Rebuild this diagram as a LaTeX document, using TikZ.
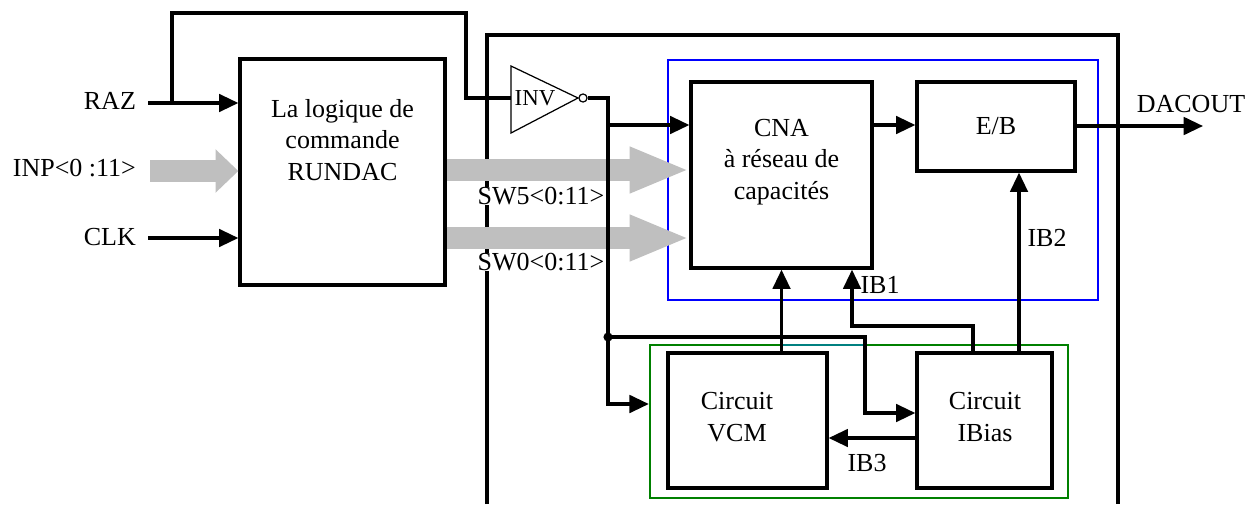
\documentclass[tikz,border=0pt]{standalone}
\usepackage{fontspec}
\setmainfont{Liberation Serif}
\usetikzlibrary{arrows.meta}

\begin{document}
\begin{tikzpicture}[x=0.02cm, y=-0.02cm,
    wire/.style={line width=1.8pt},
    sig/.style={wire, -{Triangle[length=11pt, width=10pt]}},
    box/.style={draw, line width=1.9pt, inner sep=0pt},
    bus/.style={draw=black!25, line width=12pt},
    lbl/.style={font=\fontsize{14.8}{17.8}\selectfont, align=center, inner sep=1pt}]
  \useasboundingbox (0,0) rectangle (1253,504);

  % Outer frame (open at the bottom)
  \draw[line width=1.9pt] (487,504) |- (1118,35) -- (1118,504);

  % Groups
  \node[draw=blue, line width=1.4pt, inner sep=0pt, minimum width=8.6cm, minimum height=4.8cm] (dacgrp) at (883,180) {};
  \node[draw=green!50!black, line width=1.4pt, inner sep=0pt, minimum width=8.36cm, minimum height=3.06cm] (biasgrp) at (859,421.5) {};

  % Blocks
  \node[box, minimum width=4.1cm, minimum height=4.52cm] (logic) at (342.5,172) {};
  \node[box, minimum width=3.62cm, minimum height=3.72cm] (cna) at (781.5,175) {};
  \node[box, minimum width=3.16cm, minimum height=1.78cm] (eb) at (996,126.5) {};
  \node[box, minimum width=3.18cm, minimum height=2.7cm] (vcm) at (747.5,420.5) {};
  \node[box, minimum width=2.7cm, minimum height=2.7cm] (ibias) at (984.5,420.5) {};

  \node[lbl] (logictxt) at (342.5,140) {La logique de\\commande\\RUNDAC};
  \node[lbl] (cnatxt) at (781.5,162) {CNA\\à réseau de\\capacités};
  \node[lbl] (ebtxt) at (eb) {E/B};
  \node[lbl] (vcmtxt) at (737,417) {Circuit\\VCM};
  \node[lbl] (ibiastxt) at (985,417) {Circuit\\IBias};

  % Inputs
  \node[lbl, anchor=east] (raz) at (138,101) {RAZ};
  \node[lbl, anchor=east] (inp) at (138,168) {INP<0 :11>};
  \node[lbl, anchor=east] (clk) at (138,237) {CLK};
  \coordinate (razin) at (148,103);
  \coordinate (inpin) at (150,171);
  \coordinate (clkin) at (148,238);
  \coordinate (fb) at (172,103);

  % Buses
  \draw[bus, -{Triangle[length=13pt, width=24pt]}] (inpin) -- (inpin -| logic.west);
  \draw[bus, -{Triangle[length=34pt, width=24pt]}] (logic.east |- 0,170) -- (cna.west |- 0,170);
  \draw[bus, -{Triangle[length=34pt, width=24pt]}] (logic.east |- 0,238) -- (cna.west |- 0,238);
  \node[lbl, fill=white, inner sep=0pt] (sw5) at (541,196) {SW5<0:11>};
  \node[lbl, fill=white, inner sep=0pt] (sw0) at (541,262) {SW0<0:11>};

  % Inverter
  \draw[line width=0.7pt] (511,66) -- (578,98) -- (511,133) -- cycle;
  \node[font=\fontsize{13}{15}\selectfont, inner sep=0pt] (inv) at (535,98) {INV};
  \node[draw, circle, line width=0.7pt, inner sep=0pt, minimum size=4.6pt] (invout) at (583,98) {};
  \coordinate (invin) at (511,98);

  % Wires
  \draw[sig] (razin) -- (razin -| logic.west);
  \draw[sig] (clkin) -- (clkin -| logic.west);
  \draw[wire] (fb) |- (466,13) |- (invin);
  \draw[wire] (invout.east) -| (608,337) coordinate (jn);
  \draw[sig] (jn) |- (biasgrp.west |- 0,404);
  \draw[sig] (608,125) -- (cna.west |- 0,125);
  \fill (jn) circle (2.6pt);
  \draw[sig] (jn) -| (865,413) -- (ibias.west |- 0,413);
  \draw[sig] (cna.east |- 0,125) -- (eb.west |- 0,125);
  \coordinate (dacout) at (1203,126);
  \draw[sig] (eb.east |- dacout) -- (dacout);
  \node[lbl] (dacouttxt) at (1191,104) {DACOUT};

  % Bias currents
  \draw[sig] (vcm.north -| cna.south) -- (cna.south);
  \draw[teal, line width=1.4pt] (783,345) -- (863,345);
  \draw[sig] (ibias.north -| 973,0) |- (852,326) -- (cna.south -| 852,0);
  \draw[sig] (ibias.north -| 1019,0) -- (eb.south -| 1019,0);
  \draw[sig] (ibias.west |- 0,438) -- (vcm.east |- 0,438);
  \node[lbl] (ib1) at (880,285) {IB1};
  \node[lbl] (ib2) at (1047,238) {IB2};
  \node[lbl] (ib3) at (867,463) {IB3};
\end{tikzpicture}
\end{document}
